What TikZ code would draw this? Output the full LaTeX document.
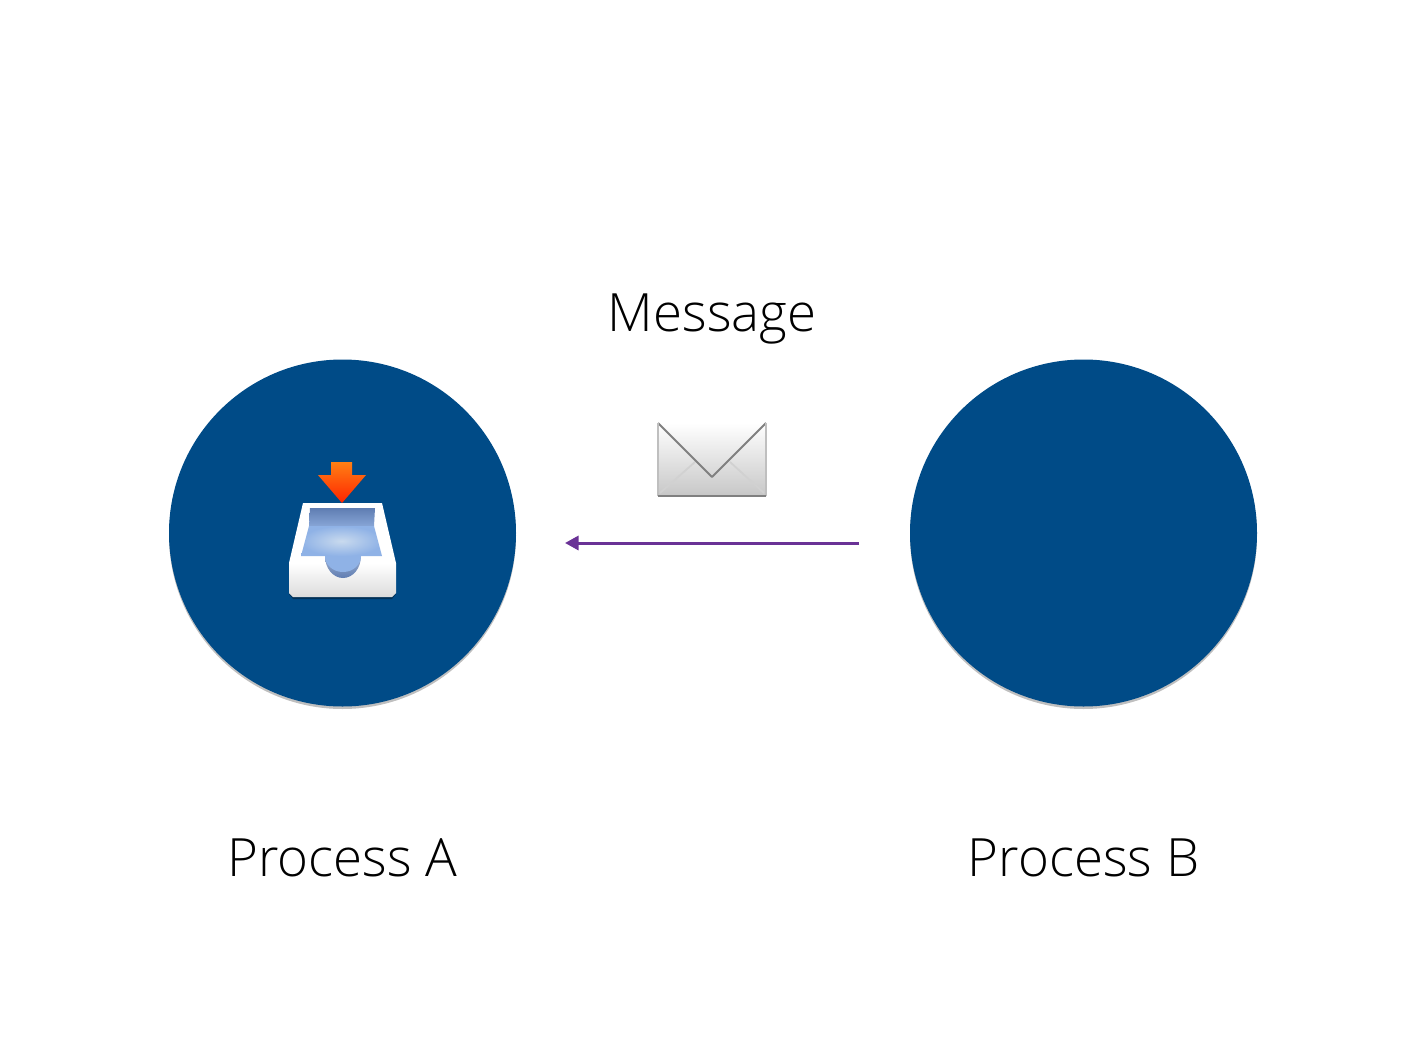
\documentclass[tikz,border=0pt]{standalone}
\usepackage{fontspec}
\setmainfont{Open Sans Light}
\usetikzlibrary{arrows.meta,shadows}
\definecolor{procblue}{HTML}{004B87}
\definecolor{msgpurple}{HTML}{6A3296}
\definecolor{wallTop}{HTML}{5F7DB2}
\definecolor{wallBot}{HTML}{87A5D6}
\definecolor{floorIn}{HTML}{C9DAEE}
\definecolor{floorOut}{HTML}{8FB2E6}
\definecolor{notchRim}{HTML}{5F7DB2}
\definecolor{arrowTop}{HTML}{FF7F14}
\definecolor{arrowBot}{HTML}{FF2400}
\tikzset{process/.style={circle, fill=procblue, minimum size=347pt, inner sep=0pt, outer sep=0pt,
    drop shadow={shadow xshift=0pt, shadow yshift=-2.5pt, opacity=0.25, fill=black}},
label/.style={font=\fontsize{52.8}{60}\selectfont, text=black, inner sep=0pt},
%the envelope and tray are drawn straight on the picture
fold/.style={draw=#1, line width=1.8pt, line join=round},
fold/.default={black!50}}

\begin{document}
\begin{tikzpicture}[x=1pt,y=-1pt]

    \useasboundingbox (0,0) rectangle (1419,1060);

    \node[process] (procA) at (342.5,533) {};
    \node[process] (procB) at (1083.5,533) {};

    \node[label] (labelA) at (342.5,858) {Process A};
    \node[label] (labelB) at (1083.5,858) {Process B};
    \node[label] (labelMsg) at (712,319) {Message};

    \coordinate (msgStart) at (859,543);
    \coordinate (msgEnd) at (565,543);
    \draw[msgpurple, line width=3pt, -{Triangle[length=13.5pt,width=14pt]}] (msgStart) -- (msgEnd);

    % envelope
    \coordinate (e0) at (658,423);
    \coordinate (e1) at (766,423);
    \coordinate (e2) at (766,496);
    \coordinate (e3) at (658,496);
    \coordinate (e4) at (712,477);
    \shade[top color=white, bottom color=black!22] (e0) -- (e1) -- (e2) -- (e3) -- cycle;
    \draw[fold=black!18] (695,462) -- (660,493);
    \draw[fold=black!18] (730,462) -- (764,493);
    \draw[fold] (e0) -- (e4) -- (e1);
    \draw[black!25, line width=1.2pt] (e0) -- (e3) (e1) -- (e2);
    \draw[black!50, line width=1.8pt] (e3) -- (e2);

    % tray
    \fill[black, opacity=0.35] (293,599) -- (392,599) -- (396,594) -- (289,594) -- cycle;
    \fill[white] (303,503) -- (382,503) -- (396,563) -- (289,563) -- cycle;
    \shade[top color=white, bottom color=black!14] (289,563) -- (396,563) -- (396,593)
        -- (392,597) -- (293,597) -- (289,593) -- cycle;
    \shade[top color=wallTop, bottom color=wallBot] (310,508) -- (375,508) -- (374,526) -- (309,526) -- cycle;
    \shade[inner color=floorIn, outer color=floorOut] (309,526) -- (374,526) -- (382,556) -- (301,556) -- cycle;
    \shade[top color=notchRim!60!white, bottom color=notchRim] (361,556) arc (0:180:18 and 22) -- cycle;
    \fill[floorOut] (361,556) arc (0:180:18 and 16) -- cycle;

    % red arrow of the tray
    \shade[top color=arrowTop, bottom color=arrowBot] (331,462) -- (352,462) -- (352,475) -- (366,475)
        -- (342,503) -- (318,475) -- (331,475) -- cycle;

  \end{tikzpicture}
\end{document}
